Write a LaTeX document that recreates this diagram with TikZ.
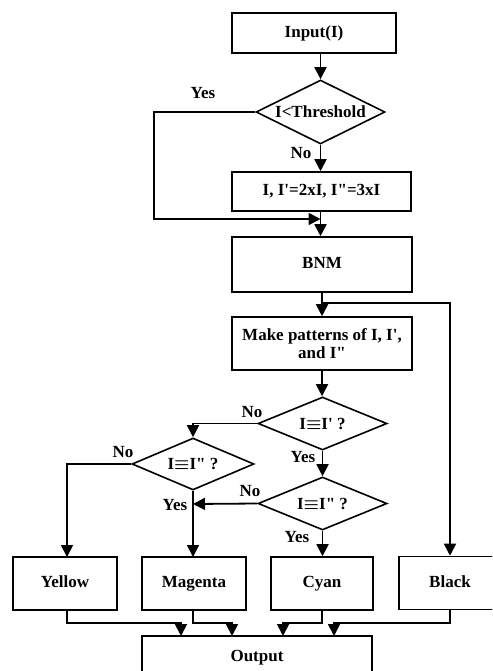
\documentclass[tikz,border=0pt]{standalone}
\usepackage{amsmath}
\usepackage{fontspec}
\setmainfont{Liberation Serif}[Ligatures=TeXOff]
\usetikzlibrary{shapes.geometric,arrows.meta,calc}
\begin{document}
\begin{tikzpicture}[x=1pt,y=-1pt,
  every node/.style={font=\fontsize{17}{19}\selectfont\bfseries},
  boxbase/.style={draw,line width=1.6pt,rectangle,inner sep=0pt},
  box/.style={boxbase,text height=12pt,text depth=3.5pt},
  box2/.style={boxbase,align=center},
  dec/.style={draw,line width=1.6pt,diamond,aspect=2,inner sep=0pt},
  lbl/.style={inner sep=0pt},
  conn/.style={line width=1.8pt},
  arr/.style={line width=1.8pt,-{Triangle[width=12pt,length=12pt]}}]
\useasboundingbox (0,0) rectangle (492,671);
\clip (0,0) rectangle (492,671);
% nodes
\node[box,minimum width=164pt,minimum height=40pt] (input) at (314,33) {Input(I)};
\node[dec,minimum width=129pt,minimum height=64pt] (d1) at (320.5,112) {I<Threshold};
\node[box,minimum width=179pt,minimum height=39pt] (proc) at (321.5,191.5) {I, I'=2xI, I"=3xI};
\node[box,minimum width=180pt,minimum height=55pt] (bnm) at (322,264.5) {BNM};
\node[box2,minimum width=180pt,minimum height=53pt] (make) at (322,343.5) {Make patterns of I, I',\\[-1pt]and I"};
\node[dec,minimum width=129pt,minimum height=53pt] (d2) at (322.5,423.5) {I$\boldsymbol{\equiv}$I' ?};
\node[dec,minimum width=122pt,minimum height=52pt] (d3) at (193,464) {I$\boldsymbol{\equiv}$I" ?};
\node[dec,minimum width=129pt,minimum height=53pt] (d4) at (322.5,503.5) {I$\boldsymbol{\equiv}$I" ?};
\node[box,minimum width=104pt,minimum height=53pt] (yellow) at (65,583.5) {Yellow};
\node[box,minimum width=104pt,minimum height=53pt] (magenta) at (194,583.5) {Magenta};
\node[box,minimum width=102pt,minimum height=53pt] (cyan) at (322,583.5) {Cyan};
\node[box,minimum width=102pt,minimum height=53pt] (black) at (450,583) {Black};
\node[box,minimum width=230pt,minimum height=42pt] (output) at (257,657) {Output};
% labels
\node[lbl] (yes1) at (203,93) {Yes};
\node[lbl] (no1) at (301,153) {No};
\node[lbl] (no2) at (252,412) {No};
\node[lbl] (yes2) at (303,457) {Yes};
\node[lbl] (no3) at (250,491) {No};
\node[lbl] (yes4) at (297,537) {Yes};
\node[lbl] (no4) at (123,452) {No};
\node[lbl] (yes3) at (175,505) {Yes};
% coordinates
\coordinate (j1) at (320.5,219);
\coordinate (j2) at (322,303);
\coordinate (j3) at (193,504);
% connectors
\draw[arr] (d1.north |- input.south) -- (d1.north);
\draw[arr] (d1.south) -- (d1.south |- proc.north);
\draw[arr] (d1.west) -- (154,112) -- (154,219) -- (j1);
\draw[arr] (j1 |- proc.south) -- (j1 |- bnm.north);
\draw[arr] (bnm.south) -- (make.north);
\draw[conn] (j2) -- (450,303) -- (450,540);
\draw[arr] (450,540) -- (black.north);
\draw[arr] (make.south) -- (make.south |- d2.north);
\draw[arr] (d2.west) -- (d3.north |- d2.west) -- (d3.north);
\draw[arr] (d2.south) -- (d4.north);
\draw[arr] (d4.west) -- (j3);
\draw[arr] (d3.west) -- (67,464) -- (67,557);
\draw[arr] (d3.south) -- (193,557);
\draw[arr] (d4.south) -- (d4.south |- cyan.north);
% to output
\draw[arr] (67,610) -- (67,623) -- (181,623) -- (181,636);
\draw[arr] (193,610) -- (193,623) -- (232,623) -- (232,636);
\draw[arr] (322,610) -- (322,623) -- (283,623) -- (283,636);
\draw[arr] (450,610) -- (450,623) -- (334,623) -- (334,636);
\end{tikzpicture}
\end{document}
